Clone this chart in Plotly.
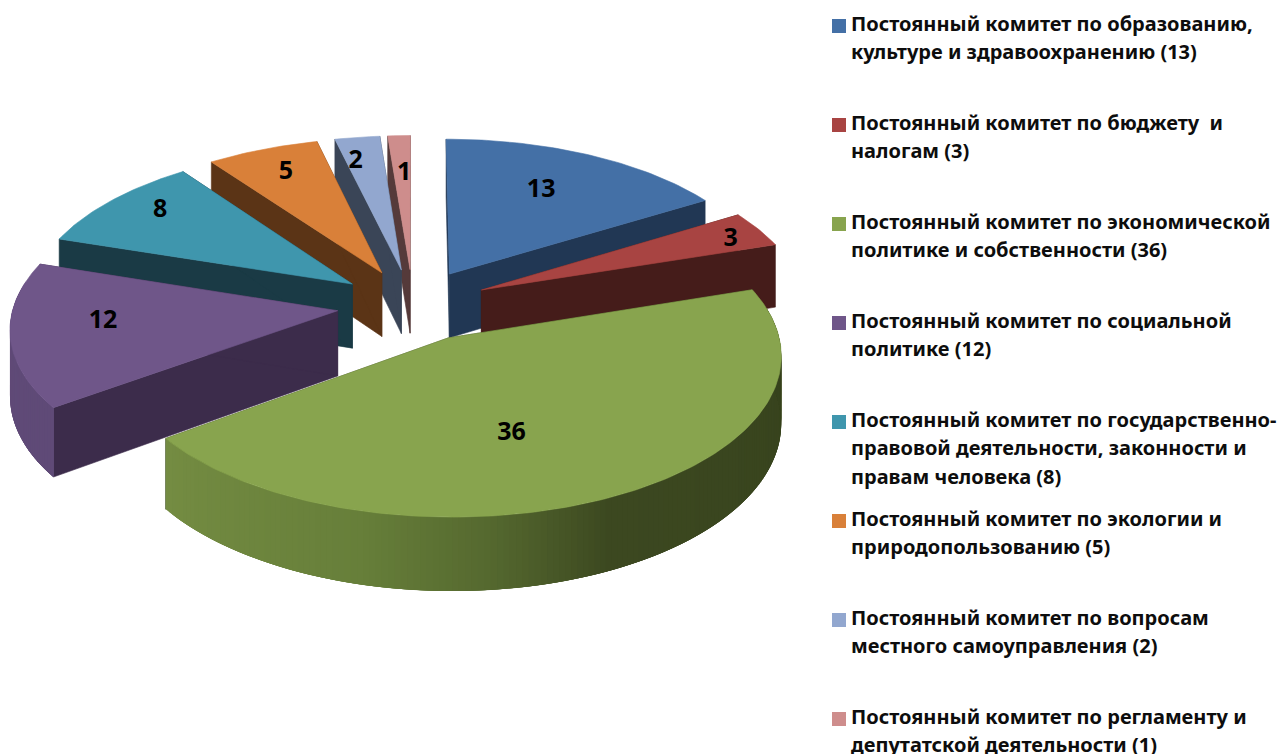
import math
import plotly.graph_objects as go

names = [
    "Постоянный комитет по образованию,<br>культуре и здравоохранению (13)",
    "Постоянный комитет по бюджету  и<br>налогам (3)",
    "Постоянный комитет по экономической<br>политике и собственности (36)",
    "Постоянный комитет по социальной<br>политике (12)",
    "Постоянный комитет по государственно-<br>правовой деятельности, законности и<br>правам человека (8)",
    "Постоянный комитет по экологии и<br>природопользованию (5)",
    "Постоянный комитет по вопросам<br>местного самоуправления (2)",
    "Постоянный комитет по регламенту и<br>депутатской деятельности (1)",
]
values = [13, 3, 36, 12, 8, 5, 2, 1]
top_colors = ["#4470a6", "#a84442", "#88a44e", "#6f5689", "#3f96ad", "#d98039", "#92a7cf", "#ce8d8c"]
wall_colors = ["#213754", "#451c1a", "#35411c", "#3c2c4b", "#1a3a45", "#5b3416", "#3a4557", "#553a3a"]
rim_stops = {
    2: [(234, "#748c42"), (195, "#677f3a"), (175, "#55692f"), (155, "#3c4820"), (72, "#35411c")],
    3: [(288, "#5f4a77"), (234, "#5f4a77")],
}

CX, CY = 413, 305      # pie centre on the canvas
R = 324                # radius
TILT = 0.476           # vertical squash of the disc
PERSP = 0.10           # perspective strength (R / viewing distance)
EXPLODE = 76           # slice explosion
DEPTH = 65             # extrusion height
LABEL_R = [0.6, 0.8, 0.6, 0.75, 0.75, 0.72, 0.7, 0.6]
LABEL_NUDGE = [(5, -10), (26, -1), (-34, 5), (10, -7), (-9, -10), (-8, -9), (-14, -13), (1, -13)]


def project(x, z, h=0.0):
    s = 1 / (1 + PERSP * z / R)
    return CX + x * s, CY + (-TILT * z + h) * s


def hex_rgb(c):
    return [int(c[i:i + 2], 16) for i in (1, 3, 5)]


def rim_color(idx, ang):
    stops = rim_stops.get(idx)
    if not stops:
        return wall_colors[idx]
    for (a0, c0), (a1, c1) in zip(stops, stops[1:]):
        if a1 <= ang <= a0:
            t = (a0 - ang) / (a0 - a1)
            m = [round(p + (q - p) * t) for p, q in zip(hex_rgb(c0), hex_rgb(c1))]
            return "rgb({},{},{})".format(*m)
    return stops[-1][1]


def poly(xs, ys, color, lw=0.6):
    return go.Scatter(
        x=xs + xs[:1], y=ys + ys[:1], mode="lines", fill="toself", fillcolor=color,
        line=dict(color=color, width=lw), hoverinfo="skip", showlegend=False,
    )


total = sum(values)
spans = []
acc = 0.0
for v in values:
    a0 = acc / total * 360
    acc += v
    spans.append((a0, acc / total * 360))

fig = go.Figure()


def world(idx, ang, r):
    a0, a1 = spans[idx]
    mid = math.radians((a0 + a1) / 2)
    t = math.radians(ang)
    return EXPLODE * math.sin(mid) + r * math.sin(t), EXPLODE * math.cos(mid) + r * math.cos(t)


order = sorted(range(len(values)),
               key=lambda i: -math.cos(math.radians(sum(spans[i]) / 2)))
label_x, label_y = [0.0] * len(values), [0.0] * len(values)

for i in order:
    a0, a1 = spans[i]
    n = max(4, int(a1 - a0))
    angs = [a0 + (a1 - a0) * k / n for k in range(n + 1)]
    ax, az = world(i, 0, 0)
    for edge in (a0, a1):
        ex, ez = world(i, edge, R)
        pts = [project(ax, az), project(ex, ez), project(ex, ez, DEPTH), project(ax, az, DEPTH)]
        fig.add_trace(poly([p[0] for p in pts], [p[1] for p in pts], wall_colors[i]))
    # rim, painted segment by segment with overlap so that the gradient has no seams
    front = [a for a in angs if math.cos(math.radians(a)) < 0.2]
    if len(front) > 1:
        front = sorted(front, reverse=True)
        for k in range(len(front) - 1):
            p0 = front[k]
            p1 = front[min(k + 4, len(front) - 1)]
            sweep = [p0 + (p1 - p0) * j / 4 for j in range(5)]
            upper = [project(*world(i, a, R)) for a in sweep]
            lower = [project(*world(i, a, R), DEPTH) for a in reversed(sweep)]
            pts = upper + lower
            fig.add_trace(poly([p[0] for p in pts], [p[1] for p in pts], rim_color(i, front[k]), lw=0))
    pts = [project(ax, az)] + [project(*world(i, a, R)) for a in angs]
    fig.add_trace(poly([p[0] for p in pts], [p[1] for p in pts], top_colors[i]))
    lx, lz = world(i, (a0 + a1) / 2, R * LABEL_R[i])
    px, py = project(lx, lz)
    label_x[i], label_y[i] = px + LABEL_NUDGE[i][0], py + LABEL_NUDGE[i][1]

FONT = "Noto Sans"
fig.add_trace(go.Scatter(
    x=label_x, y=label_y, mode="text", text=["<b>%d</b>" % v for v in values],
    textfont=dict(family=FONT, size=25, color="#000000"),
    textposition="middle center", hoverinfo="skip", showlegend=False,
))

ROW0, PITCH, LINE = 25, 99.0, 28.5
row_y = [ROW0 + PITCH * i for i in range(len(values))]
fig.add_trace(go.Scatter(
    x=[839] * len(values), y=[y + 1 for y in row_y], mode="markers",
    marker=dict(symbol="square", size=14, color=top_colors, line=dict(width=0)),
    hoverinfo="skip", showlegend=False,
))
annotations = []
for y, t in zip(row_y, names):
    for k, part in enumerate(t.split("<br>")):
        annotations.append(dict(
            x=848.5, y=y - 2 + k * LINE, xref="x", yref="y", text="<b>%s</b>" % part, showarrow=False,
            xanchor="left", yanchor="middle", align="left",
            font=dict(family=FONT, size=20, color="#0d0d0d"),
        ))

fig.update_layout(
    width=1279, height=754, margin=dict(l=0, r=0, t=0, b=0),
    paper_bgcolor="white", plot_bgcolor="white", showlegend=False,
    xaxis=dict(range=[0, 1279], visible=False, fixedrange=True),
    yaxis=dict(range=[754, 0], visible=False, fixedrange=True),
    annotations=annotations,
)
fig.write_html(
    "out.html", config=dict(displayModeBar=False),
    post_script="document.body.style.margin='0';document.documentElement.style.overflow='hidden';",
)
